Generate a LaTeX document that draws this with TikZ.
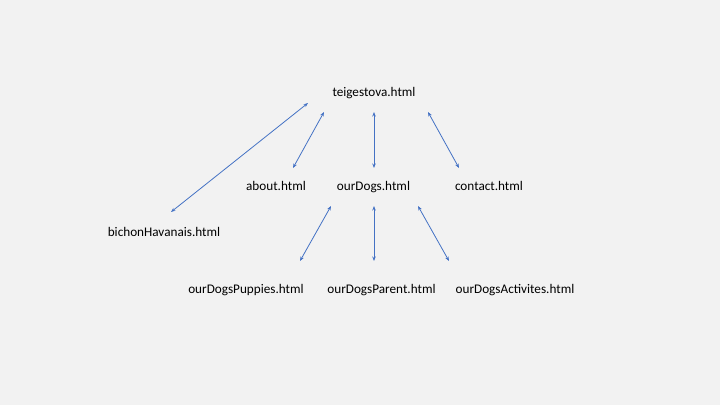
\documentclass[tikz,border=0pt]{standalone}
\usepackage{fontspec}
\setmainfont{Carlito}
\usetikzlibrary{arrows.meta}
\definecolor{bg}{HTML}{F2F2F2}
\definecolor{arr}{HTML}{4472C4}
\begin{document}
\begin{tikzpicture}[x=1pt,y=-1pt,
  lbl/.style={inner sep=0pt,anchor=base,font=\fontsize{13.2}{16}\selectfont,text=black},
  link/.style={draw=arr,line width=0.8pt,{Stealth[length=4.5pt,width=3.5pt]}-{Stealth[length=4.5pt,width=3.5pt]}}]
\fill[bg] (0,0) rectangle (720,405);
\useasboundingbox (0,0) rectangle (720,405);
\node[lbl] (root) at (374,96.5) {teigestova.html};
\node[lbl] (about) at (276,190.5) {about.html};
\node[lbl] (dogs) at (373.5,190.5) {ourDogs.html};
\node[lbl] (contact) at (489,190.5) {contact.html};
\node[lbl] (bichon) at (164,236.5) {bichonHavanais.html};
\node[lbl] (pup) at (246,293.5) {ourDogsPuppies.html};
\node[lbl] (par) at (381.5,293.5) {ourDogsParent.html};
\node[lbl] (act) at (515,293.5) {ourDogsActivites.html};
% arrow end points
\coordinate (a1s) at (308,103); \coordinate (a1e) at (171,212);
\coordinate (a2s) at (324,112); \coordinate (a2e) at (293,168);
\coordinate (a3s) at (374,112); \coordinate (a3e) at (374,168);
\coordinate (a4s) at (428,112); \coordinate (a4e) at (459,168);
\coordinate (a5s) at (331,206); \coordinate (a5e) at (300,261);
\coordinate (a6s) at (374,206); \coordinate (a6e) at (374,261);
\coordinate (a7s) at (418,206); \coordinate (a7e) at (449,261);
\draw[link] (a1s) -- (a1e);
\draw[link] (a2s) -- (a2e);
\draw[link] (a3s) -- (a3e);
\draw[link] (a4s) -- (a4e);
\draw[link] (a5s) -- (a5e);
\draw[link] (a6s) -- (a6e);
\draw[link] (a7s) -- (a7e);
\end{tikzpicture}
\end{document}
